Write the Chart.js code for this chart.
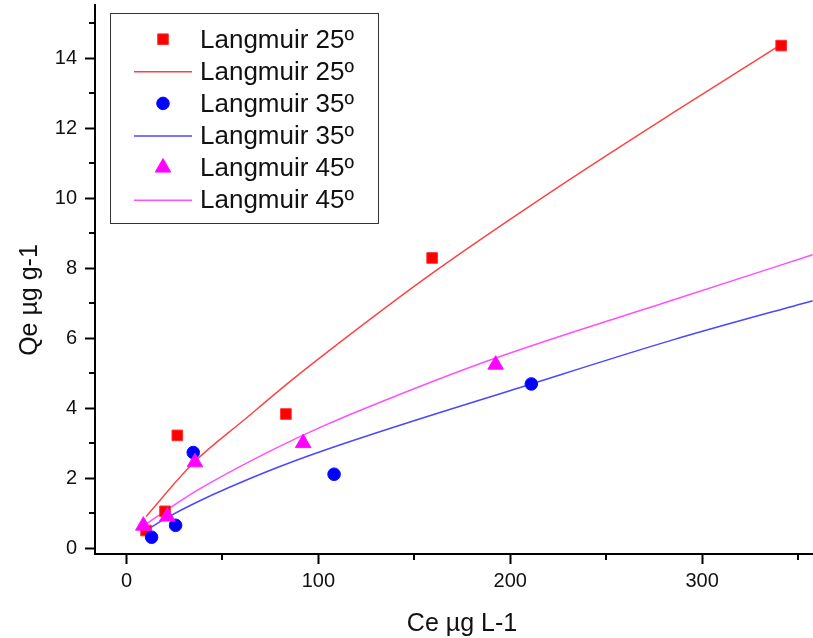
<!DOCTYPE html>
<html><head><meta charset="utf-8">
<script src="https://cdn.jsdelivr.net/npm/chart.js@4.4.0/dist/chart.umd.min.js"></script>
<style>html,body{margin:0;padding:0;background:#fff;}#wrap{width:813px;height:638px;position:relative;}</style>
</head><body><div id="wrap"><canvas id="c" width="813" height="638"></canvas></div>
<script>
// ---- data ----
const xMajorTicks = [0, 100, 200, 300];
const xMinorTicks = [50, 150, 250, 350];
const yMajorTicks = [0, 2, 4, 6, 8, 10, 12, 14];
const yMinorTicks = [1, 3, 5, 7, 9, 11, 13, 15];
const xTitle = 'Ce µg L-1';
const yTitle = 'Qe µg g-1';
const seriesLabels = ['Langmuir 25º', 'Langmuir 35º', 'Langmuir 45º'];

// measured points (Ce, Qe)
const obs25 = [[10.2,0.50],[20.1,1.05],[26.5,3.22],[83.1,3.83],[159.3,8.29],[341.2,14.36]];
const obs35 = [[13.1,0.31],[25.6,0.65],[34.8,2.73],[108.2,2.11],[211.0,4.69]];
const obs45 = [[8.8,0.64],[21.3,0.90],[35.7,2.45],[92.1,3.00],[192.4,5.24]];
// fitted curves
const fit25 = [[10.2,0.90],[34.8,2.43],[61.7,3.68],[86.6,4.82],[112.9,5.95],[159.8,7.87],[230.1,10.50],[286.6,12.50],[338.6,14.30]];
const fit35 = [[12.2,0.57],[20.9,0.86],[36.6,1.31],[73.0,2.18],[103.9,2.81],[211.0,4.69],[284.8,5.95],[357.6,7.07]];
const fit45 = [[10.5,0.70],[19.2,1.02],[36.6,1.64],[73.0,2.72],[103.9,3.52],[135.5,4.24],[192.4,5.43],[284.8,7.09],[357.6,8.38]];

const FONT = "Arial, 'Liberation Sans', sans-serif";
const toXY = a => a.map(p => ({x: p[0], y: p[1]}));

const datasets = [
  {label: seriesLabels[0], data: toXY(obs25), showLine: false, pointStyle: 'rect', pointRadius: 7.5,
   backgroundColor: '#ff0000', borderColor: '#ff3030', borderWidth: 1, order: 3},
  {label: seriesLabels[0], data: toXY(fit25), showLine: true, pointRadius: 0, borderColor: '#ff4040',
   borderWidth: 1.4, cubicInterpolationMode: 'monotone', order: 12, pointStyle: 'line'},
  {label: seriesLabels[1], data: toXY(obs35), showLine: false, pointStyle: 'circle', pointRadius: 6.3,
   backgroundColor: '#0000ff', borderColor: '#1010ff', borderWidth: 1, order: 2},
  {label: seriesLabels[1], data: toXY(fit35), showLine: true, pointRadius: 0, borderColor: '#4848ff',
   borderWidth: 1.5, cubicInterpolationMode: 'monotone', order: 11, pointStyle: 'line'},
  {label: seriesLabels[2], data: toXY(obs45), showLine: false, pointStyle: 'triangle', pointRadius: 9,
   backgroundColor: '#ff00ff', borderColor: '#ff10ff', borderWidth: 1, order: 1},
  {label: seriesLabels[2], data: toXY(fit45), showLine: true, pointRadius: 0, borderColor: '#ff50ff',
   borderWidth: 1.5, cubicInterpolationMode: 'monotone', order: 10, pointStyle: 'line'}
];

const decor = {
  id: 'decor',
  afterDraw(chart) {
    const ctx = chart.ctx, xs = chart.scales.x, ys = chart.scales.y, ca = chart.chartArea;
    ctx.save();
    // minor ticks
    ctx.strokeStyle = '#000'; ctx.lineWidth = 2;
    ctx.beginPath();
    xMinorTicks.forEach(v => { const px = Math.round(xs.getPixelForValue(v)); ctx.moveTo(px, ca.bottom); ctx.lineTo(px, ca.bottom + 6); });
    yMinorTicks.forEach(v => { const py = Math.round(ys.getPixelForValue(v)); ctx.moveTo(ca.left, py); ctx.lineTo(ca.left - 6, py); });
    ctx.stroke();
    // axis titles
    ctx.fillStyle = '#111';
    ctx.font = '25px ' + FONT;
    ctx.textAlign = 'center'; ctx.textBaseline = 'alphabetic';
    ctx.fillText(xTitle, 462, 631);
    ctx.translate(37, 300); ctx.rotate(-Math.PI / 2);
    ctx.fillText(yTitle, 0, 0);
    ctx.restore();
    // legend
    ctx.save();
    const bx = 110.5, by = 13.5, bw = 268, bh = 210;
    ctx.fillStyle = '#fff'; ctx.fillRect(bx, by, bw, bh);
    ctx.strokeStyle = '#333'; ctx.lineWidth = 1; ctx.strokeRect(bx, by, bw, bh);
    ctx.font = '26px ' + FONT; ctx.textAlign = 'left'; ctx.textBaseline = 'alphabetic';
    chart.data.datasets.forEach((ds, i) => {
      const base = 47.7 + 32.1 * i, cy = base - 8.5;
      if (ds.showLine) {
        ctx.strokeStyle = ds.borderColor; ctx.lineWidth = ds.borderWidth;
        ctx.beginPath(); ctx.moveTo(134, cy + 0.5); ctx.lineTo(192, cy + 0.5); ctx.stroke();
      } else {
        ctx.fillStyle = ds.backgroundColor; ctx.strokeStyle = ds.borderColor; ctx.lineWidth = ds.borderWidth;
        Chart.helpers.drawPoint(ctx, {pointStyle: ds.pointStyle, radius: ds.pointRadius, rotation: 0, borderWidth: ds.borderWidth}, 163, cy);
      }
      ctx.fillStyle = '#111';
      ctx.fillText(ds.label, 200, base);
    });
    ctx.restore();
  }
};

new Chart(document.getElementById('c'), {
  type: 'scatter',
  data: {datasets},
  options: {
    responsive: false, animation: false, devicePixelRatio: 1,
    layout: {autoPadding: false, padding: {top: 5, right: 0, left: 0, bottom: 0}},
    plugins: {legend: {display: false}, tooltip: {enabled: false}},
    scales: {
      x: {
        type: 'linear', min: -16.4, max: 357.8,
        afterBuildTicks: s => { s.ticks = xMajorTicks.map(v => ({value: v})); },
        afterFit: s => { s.height = 84; s.paddingLeft = 0; s.paddingRight = 0; },
        grid: {drawOnChartArea: false, tickLength: 10, tickWidth: 2, tickColor: '#000'},
        border: {color: '#000', width: 2},
        ticks: {font: {family: FONT, size: 20}, color: '#111', padding: 5, maxRotation: 0, autoSkip: false}
      },
      y: {
        type: 'linear', min: -0.17, max: 15.52,
        afterBuildTicks: s => { s.ticks = yMajorTicks.map(v => ({value: v})); },
        afterFit: s => { s.width = 95; s.paddingTop = 0; s.paddingBottom = 0; },
        grid: {drawOnChartArea: false, tickLength: 10, tickWidth: 2, tickColor: '#000'},
        border: {color: '#000', width: 2},
        ticks: {font: {family: FONT, size: 20}, color: '#111', padding: 8, autoSkip: false}
      }
    }
  },
  plugins: [decor]
});
</script></body></html>
